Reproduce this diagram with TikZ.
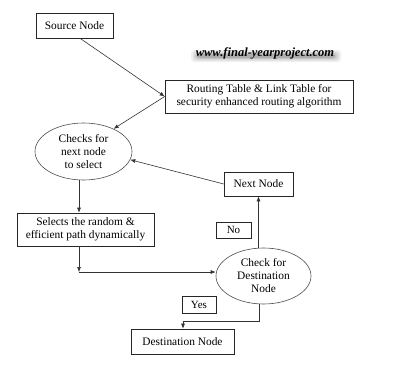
\documentclass[tikz,border=0pt]{standalone}
\usepackage{fontspec}
\setmainfont{Liberation Serif}
\usetikzlibrary{arrows.meta,shapes.geometric}
\begin{document}
\begin{tikzpicture}[x=1pt,y=-1pt,
  every node/.style={font=\fontsize{11.4}{13}\selectfont, inner sep=0pt, align=center},
  box/.style={draw=black!85, line width=0.6pt, rectangle},
  oval/.style={draw=black!70, line width=0.6pt, ellipse},
  lbl/.style={draw=black!85, line width=0.6pt, rectangle, font=\fontsize{11}{13}\selectfont},
  arr/.style={draw=black!80, line width=0.6pt, -{Latex[length=5pt,width=4pt]}},
  ln/.style={draw=black!80, line width=0.6pt}]
\useasboundingbox (0,0) rectangle (400,367);
% watermark shadow (soft blur)
\foreach \w/\h/\op in {150/12/0.06, 146/9/0.08, 142/6/0.1, 138/4/0.12}
  \fill[black, opacity=\op, rounded corners=3pt] (266-\w/2,56-\h/2) rectangle (266+\w/2,56+\h/2);
\node[font=\fontsize{12.5}{14}\bfseries\itshape\selectfont] (wm) at (265,53) {www.final-yearproject.com};

\node[box, minimum width=77pt, minimum height=25pt] (src) at (74.5,25.5) {Source Node};
\node[box, minimum width=188pt, minimum height=33pt] (rt) at (259,96.5) {Routing Table \& Link Table for\\security enhanced routing algorithm};
\node[oval, minimum width=97pt, minimum height=57pt] (chk1) at (83.5,151.5) {Checks for\\next node\\to select};
\node[box, minimum width=69pt, minimum height=24pt] (nxt) at (258.5,184) {Next Node};
\node[box, minimum width=137pt, minimum height=33pt] (sel) at (85.5,229.5) {Selects the random \&\\efficient path dynamically};
\node[oval, minimum width=95pt, minimum height=56pt] (chk2) at (263.5,276) {Check for\\Destination\\Node};
\node[lbl, minimum width=35pt, minimum height=16pt] (no) at (233.5,230) {No};
\node[lbl, minimum width=34pt, minimum height=17pt] (yes) at (199,304.5) {Yes};
\node[box, minimum width=103pt, minimum height=25pt] (dst) at (182.5,341.5) {Destination Node};

\coordinate (c1) at (79,272);
\coordinate (c2) at (259,321);
\coordinate (c3) at (183,321);

\draw[arr] ([xshift=5.5pt]src.south) -- (rt.west);
\draw[arr] (rt.west) -- (chk1.37);
\draw[arr] (nxt.west) -- (chk1.-10);
\draw[arr] (chk1.south -| c1) -- (sel.north -| c1);
\draw[arr] (sel.south -| c1) -- (c1);
\draw[arr] (c1) -- (chk2.west |- c1);
\draw[arr] (chk2.north -| nxt.south) -- (nxt.south);
\draw[ln] (chk2.south -| c2) -- (c2) -- (c3);
\draw[arr] (c3) -- (dst.north -| c3);
\end{tikzpicture}
\end{document}
